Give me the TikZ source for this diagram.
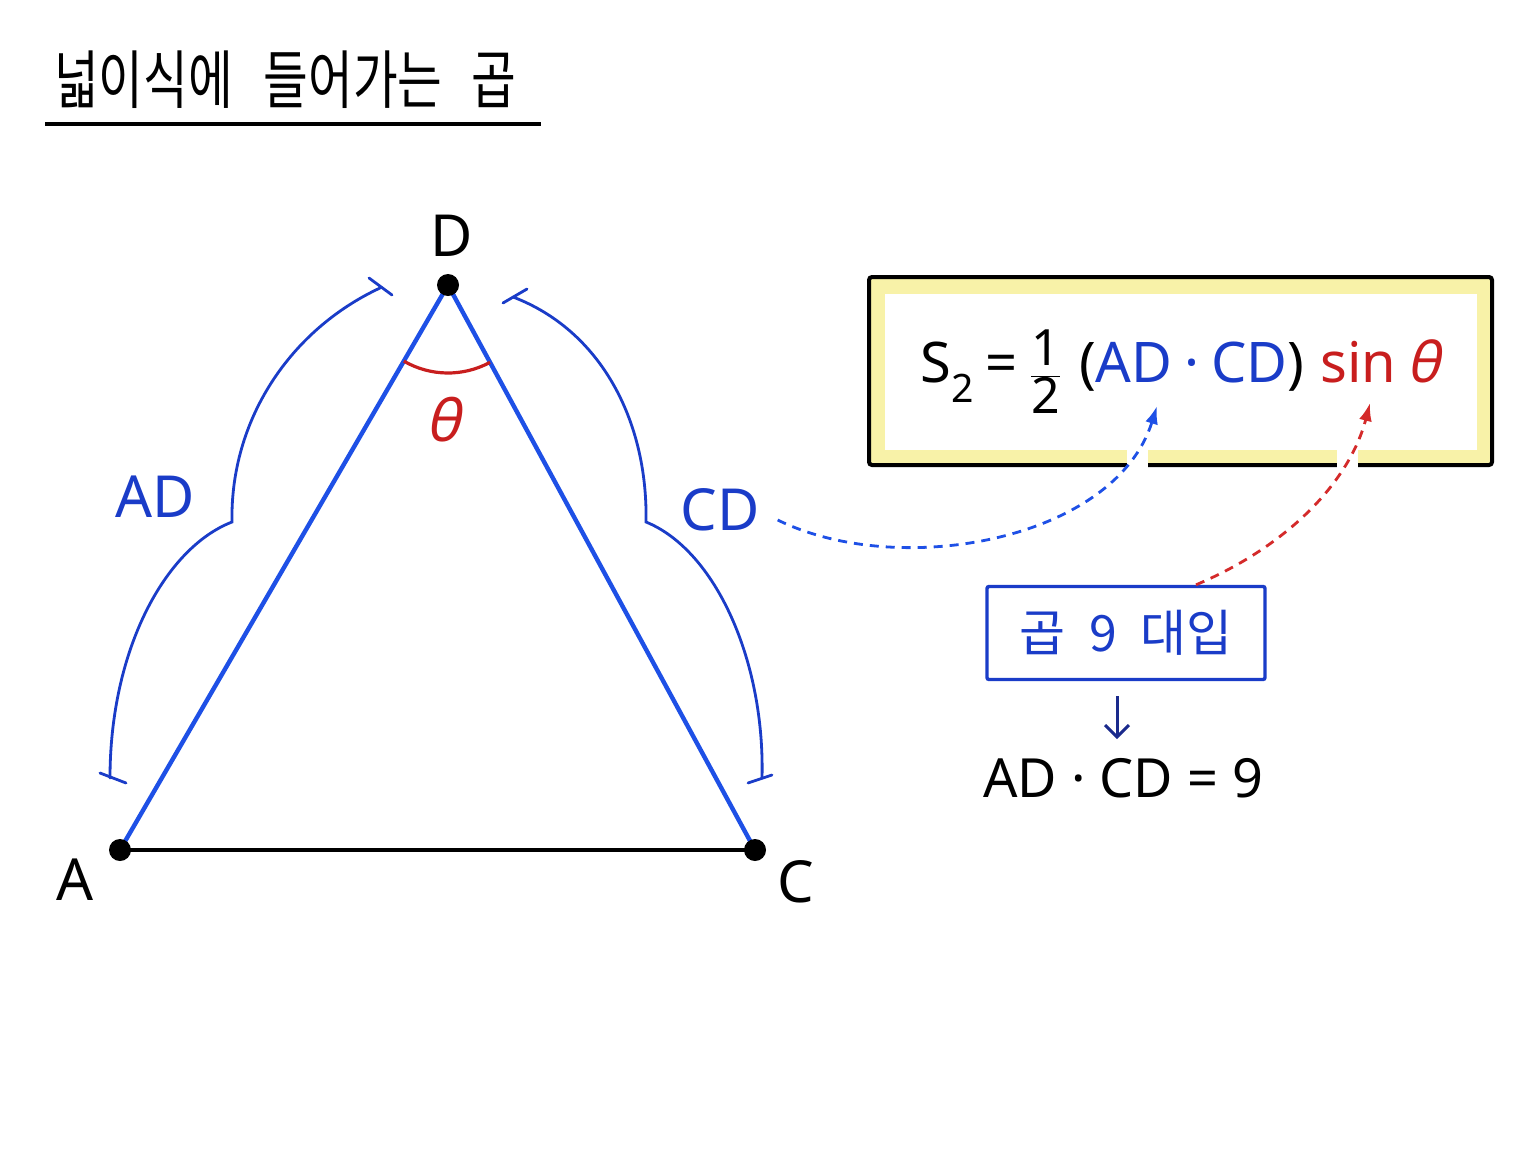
\documentclass[tikz,border=0pt]{standalone}
\usepackage{fontspec}
\setmainfont{Noto Sans}
\newfontfamily\kr{Noto Sans CJK KR}
\newfontfamily\thf[FakeSlant=0.22]{Noto Sans}
\usetikzlibrary{arrows.meta,calc}
\definecolor{tblue}{HTML}{1E50E6}
\definecolor{bblue}{HTML}{1A3CC8}
\definecolor{fred}{HTML}{C81E1E}
\definecolor{dred}{HTML}{D42A2A}
\definecolor{ylw}{HTML}{F8F2A8}
\definecolor{navy}{HTML}{1A2A8C}
\tikzset{
  dotnode/.style={circle,fill=black,inner sep=0pt,minimum size=22},
  side/.style={tblue,line width=4.4},
  basel/.style={black,line width=3.4},
  brc/.style={bblue,line width=2.8,line cap=round},
  lbl/.style={font=\fontsize{58}{58}\selectfont,inner sep=0pt},
  dasharr/.style={line width=2.8,dash pattern=on 9pt off 7pt,-{Latex[length=18pt,width=13pt]}},
}
\begin{document}
\begin{tikzpicture}[x=1pt,y=-1pt]
\useasboundingbox (0,0) rectangle (1536,1152);
\fill[white] (0,0) rectangle (1536,1152);
% title
\node[inner sep=0pt,anchor=west] (T) at (54,80) {\kr\fontsize{54}{54}\selectfont\scalebox{0.9}[1.18]{넓이식에\hspace{34pt}들어가는\hspace{32pt}곱}};
\coordinate (u1) at (45,124);
\coordinate (u2) at (541,124);
\draw[black,line width=3.4] (u1) -- (u2);
% triangle
\coordinate (A) at (120,850);
\coordinate (C) at (755,850);
\coordinate (D) at (448,285);
\draw[basel] (A) -- (C);
\draw[side] (A) -- (D) -- (C);
\draw[fred,line width=3.2] (D) ++(120.1:88) arc[start angle=120.1,end angle=61.5,radius=88];
\node[dotnode] (dA) at (A) {};
\node[dotnode] (dC) at (C) {};
\node[dotnode] (dD) at (D) {};
\node[lbl] (lD) at (452,236) {D};
\node[lbl] (lA) at (75,880) {A};
\node[lbl] (lC) at (796,882) {C};
\node[lbl,text=fred] (lt) at (443,420) {\thf θ};
% braces
\draw[brc] (380,288) .. controls (290,330) and (230,420) .. (232,522) .. controls (165,548) and (110,650) .. (110,778);
\draw[brc] (369,278) -- (392,295);
\draw[brc] (100,773) -- (126,783);
\draw[brc] (513,297) .. controls (600,330) and (648,420) .. (646,522) .. controls (715,550) and (765,660) .. (762,778);
\draw[brc] (503,303) -- (527,289);
\draw[brc] (748,783) -- (772,775);
\node[lbl,text=bblue] (lAD) at (155,497) {AD};
\node[lbl,text=bblue] (lCD) at (720,510) {CD};
% formula box
\node[draw=black,line width=4,fill=ylw,rounded corners=3,minimum width=623,minimum height=188,inner sep=0pt] (FB) at (1180.5,371) {};
\node[fill=white,minimum width=592,minimum height=156,inner sep=0pt] (FW) at (1181,372) {};
\fill[white] (1127,446) rectangle (1148,470);
\fill[white] (1337,446) rectangle (1358,470);
\node[inner sep=0pt,font=\fontsize{56}{56}\selectfont] (F) at (1180,372) {S\textsubscript{2}\hspace{12pt}=\hspace{12pt}$\displaystyle\frac{\mbox{\fontsize{50}{50}\selectfont 1}}{\mbox{\fontsize{50}{50}\selectfont 2}}$\hspace{18pt}(\textcolor{bblue}{AD\hspace{12pt}·\hspace{12pt}CD})\hspace{16pt}\textcolor{fred}{sin\hspace{10pt}\thf θ}};
% label box
\node[draw=bblue,line width=3.4,rounded corners=2,minimum width=278,minimum height=93,inner sep=0pt,text=bblue,font=\kr\fontsize{50}{50}\selectfont] (B) at (1126,633) {곱\hspace{24pt}9\hspace{24pt}대입};
\node[inner sep=0pt,font=\fontsize{54}{54}\selectfont] (R) at (1123,778) {AD · CD = 9};
\draw[navy,line width=3,-{Straight Barb[length=12pt,width=24pt]}] ($(B.south)+(-9,15)$) -- ($(B.south)+(-9,58)$);
% dashed arrows
\draw[tblue,dasharr] ([xshift=18pt,yshift=-10pt]lCD.east) .. controls (900,580) and (1115,540) .. (1157,406);
\draw[dred,dasharr] ([xshift=70pt]B.north) .. controls (1290,545) and (1350,480) .. (1370,403);
\end{tikzpicture}
\end{document}
